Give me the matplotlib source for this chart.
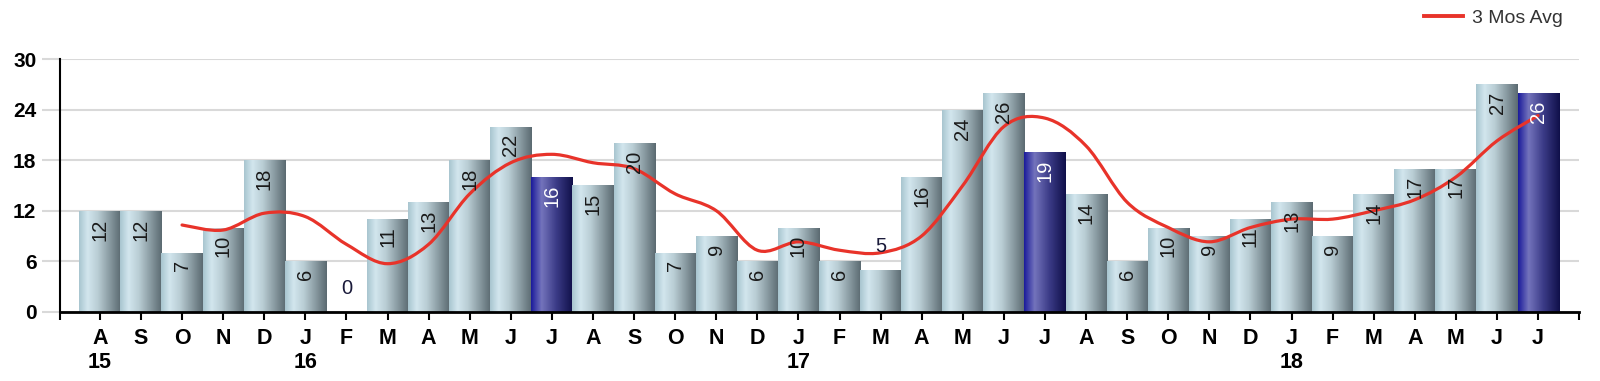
import numpy as np
import matplotlib
matplotlib.use('Agg')
import matplotlib.pyplot as plt
from matplotlib.colors import LinearSegmentedColormap
from matplotlib.path import Path
from matplotlib.patches import PathPatch
from matplotlib.lines import Line2D

# data
months = ['A', 'S', 'O', 'N', 'D', 'J', 'F', 'M', 'A', 'M', 'J', 'J',
          'A', 'S', 'O', 'N', 'D', 'J', 'F', 'M', 'A', 'M', 'J', 'J',
          'A', 'S', 'O', 'N', 'D', 'J', 'F', 'M', 'A', 'M', 'J', 'J']
years = {0: '15', 5: '16', 17: '17', 29: '18'}
counts = [12, 12, 7, 10, 18, 6, 0, 11, 13, 18, 22, 16,
          15, 20, 7, 9, 6, 10, 6, 5, 16, 24, 26, 19,
          14, 6, 10, 9, 11, 13, 9, 14, 17, 17, 27, 26]
highlight = [11, 23, 35]   # dark blue bars
avg_start = 2
avg3 = [10.3, 9.7, 11.7, 11.3, 8.0, 5.7, 8.0, 14.0, 17.7, 18.7, 17.7, 17.0,
        14.0, 12.0, 7.3, 8.3, 7.3, 7.0, 9.0, 15.0, 22.0, 23.0, 19.7, 13.0,
        10.0, 8.3, 10.0, 11.0, 11.0, 12.0, 13.3, 16.0, 20.3, 23.3]

plt.rcParams['font.family'] = ['Liberation Sans', 'DejaVu Sans']

light_cmap = LinearSegmentedColormap.from_list(
    'light', [(0, '#a9c6d0'), (0.2, '#d2e6ee'), (0.45, '#b9cdd4'), (1, '#5c6b72')])
dark_cmap = LinearSegmentedColormap.from_list(
    'dark', [(0, '#1c1c9c'), (0.25, '#7474bc'), (0.6, '#3c3c88'), (1, '#10104a')])
grad = np.linspace(0, 1, 64).reshape(1, -1)

fig = plt.figure(figsize=(16, 3.81), dpi=100)
ax = fig.add_axes([0.0375, 0.182, 0.9495, 0.6625])

x = np.arange(len(counts))
bars = ax.bar(x, counts, width=1.0, color='none', edgecolor='none', zorder=2)
for i, b in enumerate(bars):
    v = counts[i]
    if v > 0:
        cmap = dark_cmap if i in highlight else light_cmap
        im = ax.imshow(grad, cmap=cmap, aspect='auto', zorder=2,
                       extent=(b.get_x(), b.get_x() + b.get_width(), 0, v))
        im.set_clip_path(b)
    if v >= 6:
        ax.text(i, v - 0.9, str(v), rotation=90, ha='center', va='top',
                fontsize=14.5, color='white' if i in highlight else '#1a1a1a', zorder=4)
    else:
        ax.text(i, v + 1.6, str(v), ha='center', va='bottom',
                fontsize=14.5, color='#1a1a3a', zorder=4)

# smooth 3 month average (cubic bezier segments through the points)
ax_x = np.arange(avg_start, avg_start + len(avg3))
pts = np.column_stack([ax_x, avg3])
verts = [tuple(pts[0])]
codes = [Path.MOVETO]
for k in range(len(pts) - 1):
    p0 = pts[k - 1] if k > 0 else pts[k]
    p1 = pts[k]
    p2 = pts[k + 1]
    p3 = pts[k + 2] if k + 2 < len(pts) else pts[k + 1]
    c1 = p1 + (p2 - p0) / 6.0
    c2 = p2 - (p3 - p1) / 6.0
    verts += [tuple(c1), tuple(c2), tuple(p2)]
    codes += [Path.CURVE4, Path.CURVE4, Path.CURVE4]
ax.add_patch(PathPatch(Path(verts, codes), facecolor='none', edgecolor='#e8332a',
                       lw=2.3, zorder=3, capstyle='round'))

ax.set_xlim(-0.97, 36)
ax.set_ylim(0, 30)
ax.set_yticks(np.arange(0, 31, 6))
ax.grid(axis='y', color='#d9d9d9', lw=1.5, zorder=0)
ax.set_axisbelow(True)
ax.tick_params(axis='y', length=13, width=1.5, color='#d9d9d9', pad=4,
               labelsize=15)
for t in ax.get_yticklabels():
    t.set_fontweight('bold')

labels = [m + ('\n' + years[i] if i in years else '') for i, m in enumerate(months)]
ax.set_xticks(x)
ax.set_xticklabels(labels, fontsize=15.5, fontweight='bold', va='top', linespacing=1.15)
ax.set_xticks([-0.97, 36], minor=True)
ax.tick_params(axis='x', which='both', length=6, width=1.5, color='black', pad=6)

for s in ['top', 'right']:
    ax.spines[s].set_visible(False)
ax.spines['left'].set_linewidth(1.5)
ax.spines['bottom'].set_linewidth(2)

h = Line2D([], [], color='#e8332a', lw=2.8)
fig.legend([h], ['3 Mos Avg'], loc='upper right', bbox_to_anchor=(0.988, 1.022),
           frameon=False, fontsize=14, handlelength=2.0, handletextpad=0.5,
           labelcolor='#333333')

fig.savefig('out.png', dpi=100)
